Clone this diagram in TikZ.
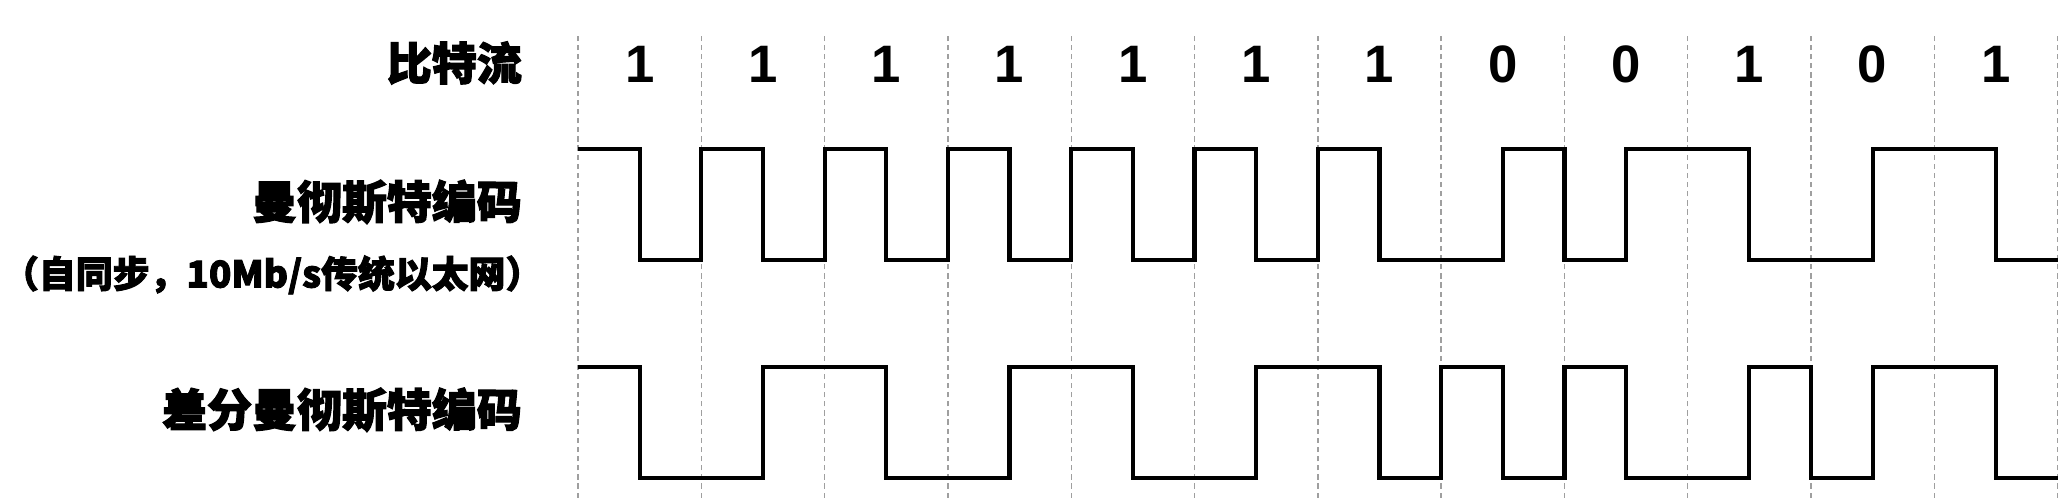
\documentclass[tikz,border=0pt]{standalone}
\usepackage{fontspec}
\setmainfont{Liberation Sans}
\newfontfamily\cjkheavy{Noto Sans CJK SC Black}[FakeBold=2.5]

\tikzset{
  senal/.style={line width=1.2pt, line join=miter},
  rejilla/.style={gray!75, line width=0.4pt, dash pattern=on 1.5pt off 1.1pt},
  bit/.style={font=\fontsize{15pt}{18pt}\selectfont\bfseries, inner sep=0pt},
  etiqueta/.style={font=\cjkheavy\fontsize{12.8pt}{15pt}\selectfont, anchor=east, inner sep=0pt},
  nota/.style={font=\cjkheavy\fontsize{10.5pt}{13pt}\selectfont, inner sep=0pt},
}

\begin{document}
\begin{tikzpicture}[x=1.2335cm, y=1cm]
    \useasboundingbox (-4.688,0) rectangle (12.036,4.98);
    % Niveles de las señales
    \def\mh{3.49} \def\ml{2.38}
    \def\dh{1.31} \def\dl{0.20}
    
    % Líneas de los tiempos de bit
    \foreach \i in {0,...,12}
        \draw[rejilla] (\i,0) -- (\i,4.65);
    
    % Bits del flujo
    \foreach \b [count=\i from 0] in {1,1,1,1,1,1,1,0,0,1,0,1}
        \node[bit] (b\i) at (\i+0.5,4.34) {\b};
    
    % Etiquetas de las filas
    \node[etiqueta] (flujo) at (-0.45,4.35) {比特流};
    \node[etiqueta] (manch) at (-0.45,2.96) {曼彻斯特编码};
    \node[nota] (sinc) at (-2.48,2.23) {（自同步，10Mb/s传统以太网）};
    \node[etiqueta] (difman) at (-0.45,0.88) {差分曼彻斯特编码};
    
    % Codificación Manchester
    \draw[senal] (0,\mh) -| (0.5,\ml) -| (1,\mh) -| (1.5,\ml) -| (2,\mh)
        -| (2.5,\ml) -| (3,\mh) -| (3.5,\ml) -| (4,\mh) -| (4.5,\ml)
        -| (5,\mh) -| (5.5,\ml) -| (6,\mh) -| (6.5,\ml) -| (7.5,\mh)
        -| (8,\ml) -| (8.5,\mh) -| (9.5,\ml) -| (10.5,\mh) -| (11.5,\ml)
        -- (12,\ml);
    
    % Codificación Manchester diferencial
    \draw[senal] (0,\dh) -| (0.5,\dl) -| (1.5,\dh) -| (2.5,\dl) -| (3.5,\dh)
        -| (4.5,\dl) -| (5.5,\dh) -| (6.5,\dl) -| (7,\dh) -| (7.5,\dl)
        -| (8,\dh) -| (8.5,\dl) -| (9.5,\dh) -| (10,\dl) -| (10.5,\dh)
        -| (11.5,\dl) -- (12,\dl);
    
\end{tikzpicture}
\end{document}
